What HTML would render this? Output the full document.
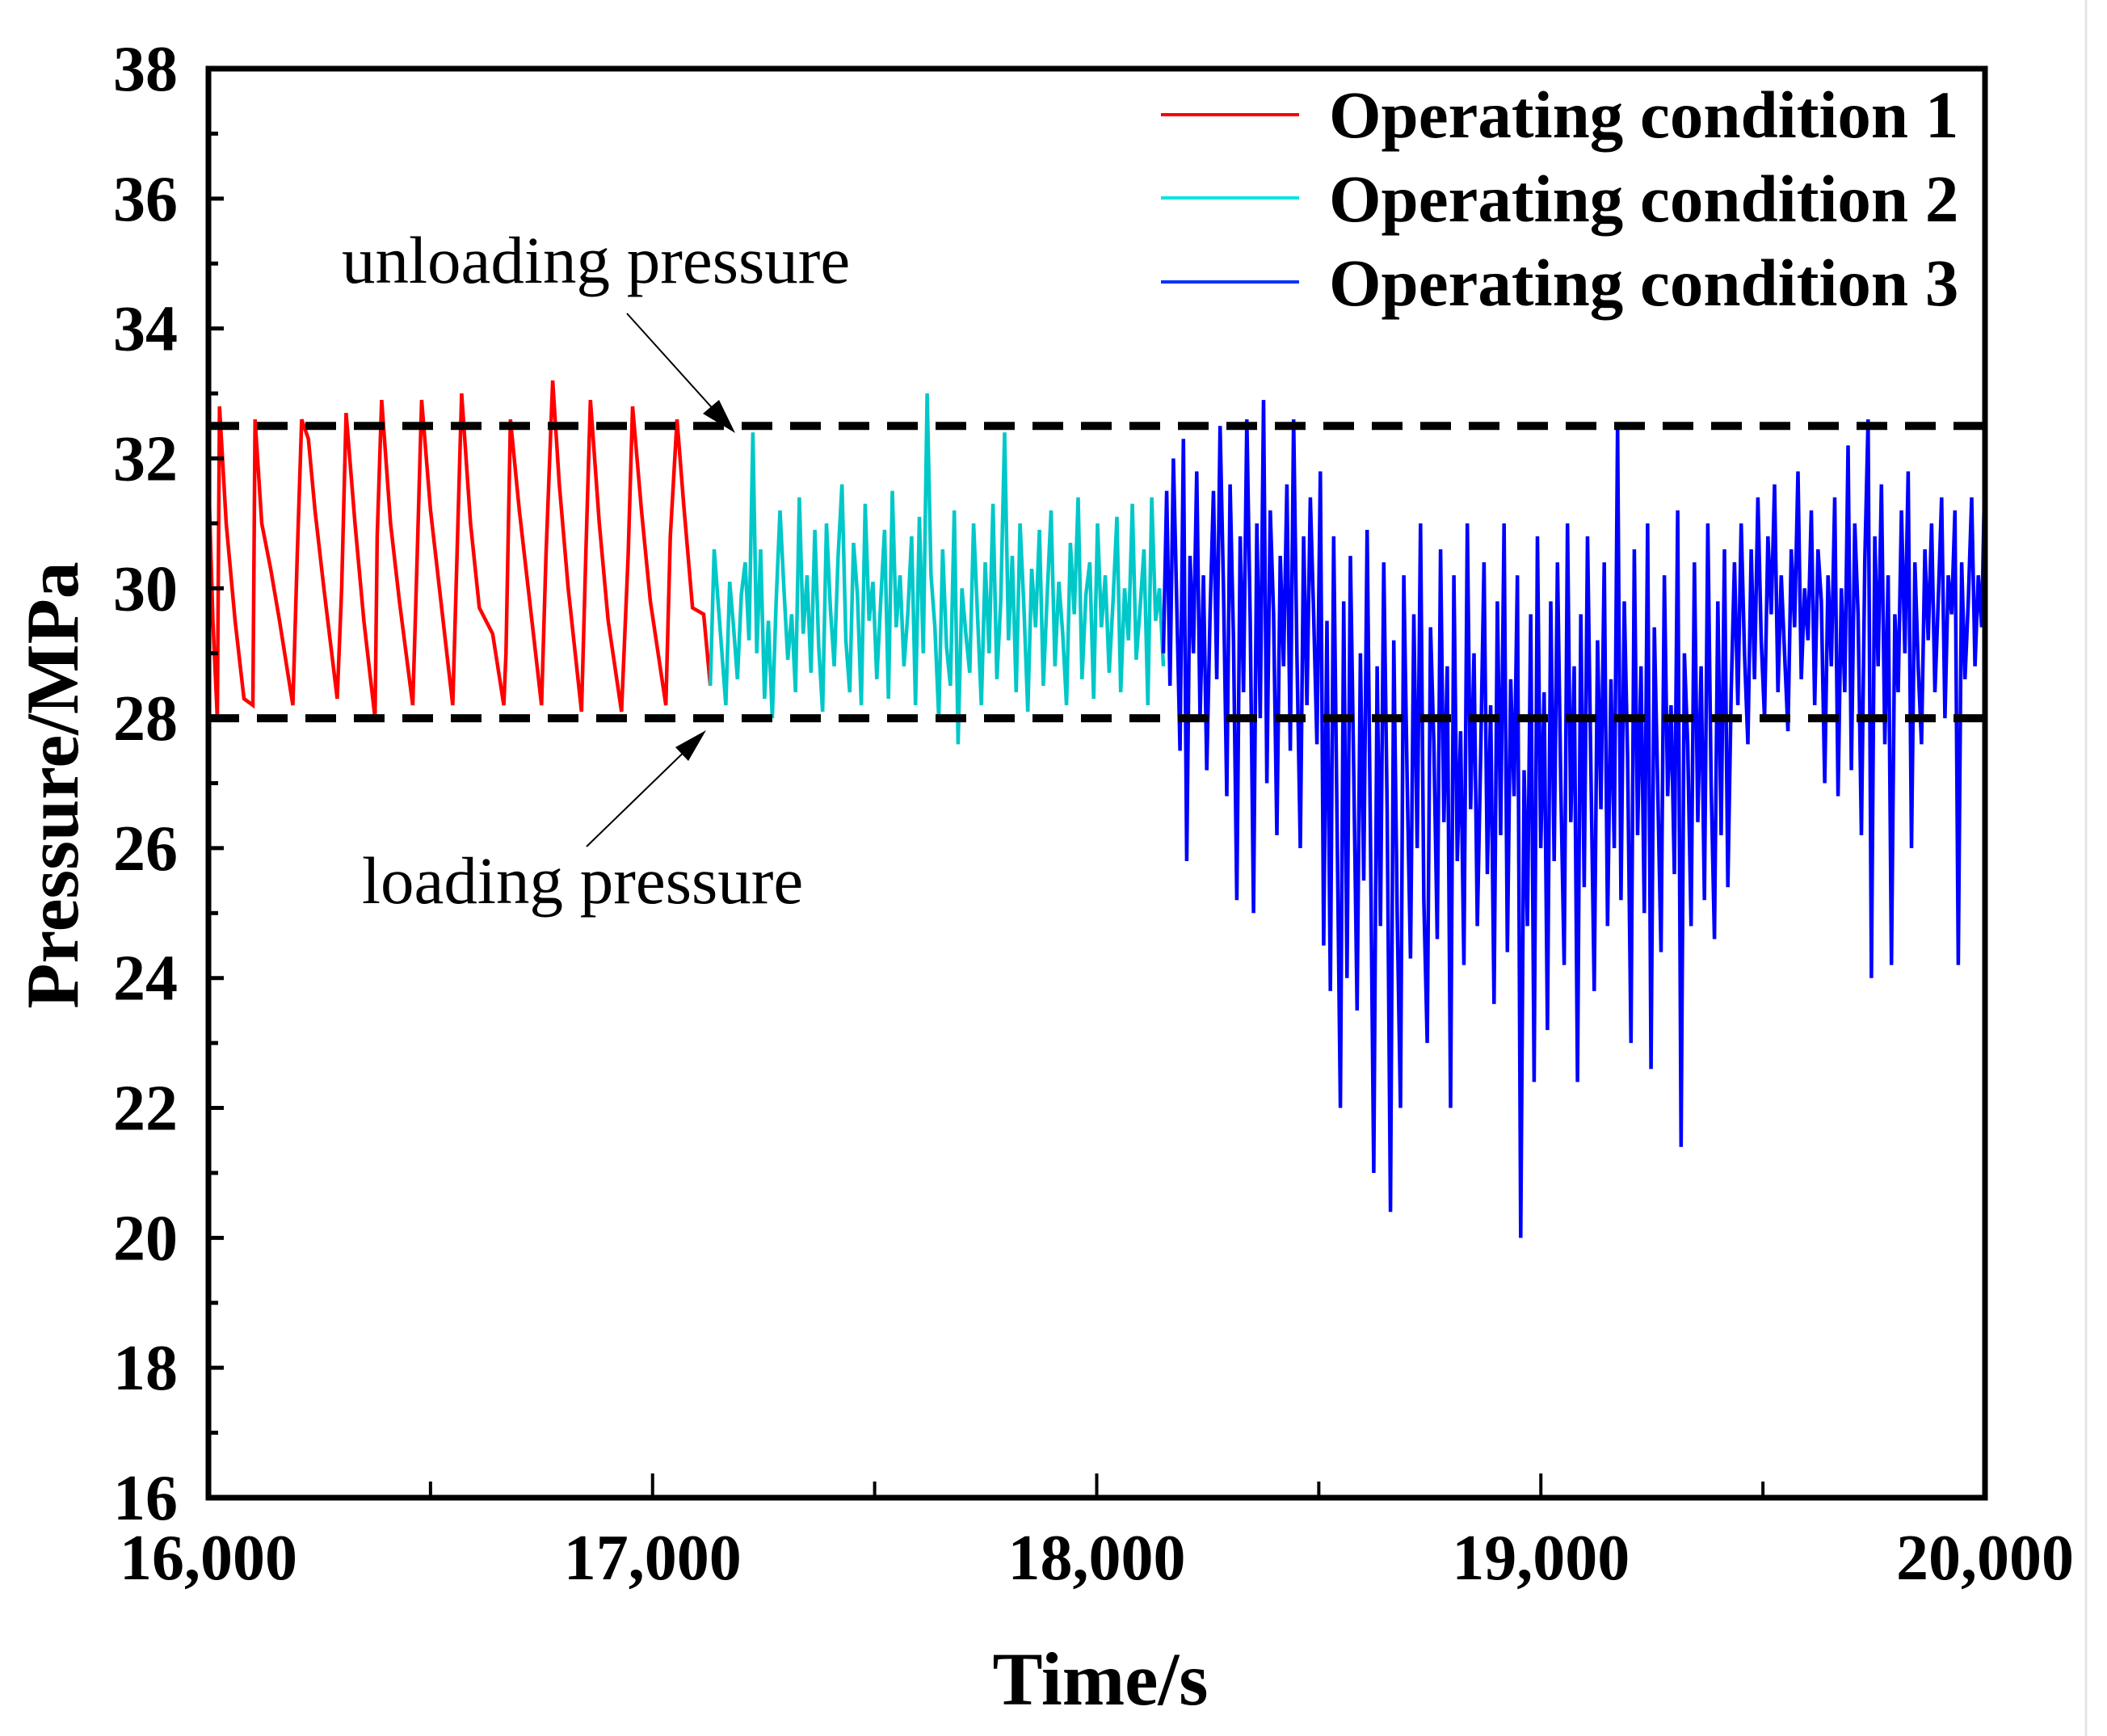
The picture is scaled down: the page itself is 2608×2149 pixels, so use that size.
<!DOCTYPE html>
<html><head><meta charset="utf-8"><style>
html,body{margin:0;padding:0;background:#fff}
svg{display:block}
text{font-family:"Liberation Serif",serif}
</style></head><body>
<svg id="chart" width="2608" height="2149" viewBox="0 0 2608 2149" xmlns="http://www.w3.org/2000/svg">
<rect x="0" y="0" width="2608" height="2149" fill="#fff"/>
<line x1="2582" y1="0" x2="2582" y2="2149" stroke="#e6e6e6" stroke-width="3"/>
<g id="series"></g>
<g id="axes"></g>
<g id="legend">
  <line x1="1437" y1="142" x2="1608" y2="142" stroke="#ff0000" stroke-width="4"/>
  <text x="1645" y="170" font-size="83" font-weight="bold">Operating condition 1</text>
  <line x1="1437" y1="245" x2="1608" y2="245" stroke="#00e5e5" stroke-width="4"/>
  <text x="1645" y="274" font-size="83" font-weight="bold">Operating condition 2</text>
  <line x1="1437" y1="349" x2="1608" y2="349" stroke="#0033ff" stroke-width="4"/>
  <text x="1645" y="378" font-size="83" font-weight="bold">Operating condition 3</text>
</g>
<g>
  <text x="423" y="350" font-size="83">unloading pressure</text>
  <line x1="776" y1="388" x2="895" y2="520" stroke="#000" stroke-width="2"/>
  <polygon points="910,536 870,512 890,495" fill="#000"/>
  <text x="448" y="1118" font-size="83">loading pressure</text>
  <line x1="726" y1="1048" x2="860" y2="918" stroke="#000" stroke-width="2"/>
  <polygon points="874,904 852,942 836,925" fill="#000"/>
</g>
<text x="1362" y="2110" font-size="93" font-weight="bold" text-anchor="middle">Time/s</text>
<text transform="translate(96,972) rotate(-90)" x="0" y="0" font-size="92" font-weight="bold" text-anchor="middle">Pressure/MPa</text>
</svg>
<script>
var xTickLabels=["16,000","17,000","18,000","19,000","20,000"];
var xTicks=[16000,17000,18000,19000,20000];
var yTicks=[16,18,20,22,24,26,28,30,32,34,36,38];
var unloadingPressure=32.5;
var loadingPressure=28.0;
var redTimes=[16000,16010,16020,16025,16040,16060,16080,16100,16105,16120,16140,16160,16190,16200,16210,16225,16240,16260,16290,16300,16310,16330,16350,16375,16380,16390,16410,16430,16460,16470,16480,16500,16520,16550,16560,16570,16590,16610,16640,16665,16670,16680,16700,16720,16750,16760,16775,16790,16810,16840,16850,16860,16880,16900,16930,16945,16955,16975,16995,17030,17040,17055,17070,17090,17115,17130];
var redValues=[31.8,29.5,28.0,32.8,31.0,29.5,28.3,28.2,32.6,31.0,30.3,29.5,28.2,30.5,32.6,32.3,31.2,30.0,28.3,30.0,32.7,31.0,29.5,28.0,30.8,32.9,31.0,29.8,28.2,30.5,32.9,31.2,30.0,28.2,30.6,33.0,31.0,29.7,29.3,28.2,29.0,32.6,31.2,30.0,28.2,30.5,33.2,31.6,30.0,28.1,30.6,32.9,31.0,29.5,28.1,30.5,32.8,31.2,29.8,28.2,30.8,32.6,31.3,29.7,29.6,28.5];
var cyanStart=17130, cyanEnd=18150;
var cyanValues=[28.5,30.6,29.8,29.0,28.2,30.1,29.4,28.6,29.9,30.4,29.2,32.4,29.0,30.6,28.3,29.5,28.0,29.8,31.2,30.0,28.9,29.6,28.4,31.4,29.3,30.2,28.7,30.9,29.1,28.1,31.0,29.7,28.8,30.5,31.6,29.2,28.4,30.7,29.9,28.2,31.3,29.5,30.1,28.6,29.8,30.9,28.3,31.5,29.4,30.2,28.8,29.6,30.8,28.2,31.1,29.0,33.0,30.2,29.4,28.0,30.6,29.1,28.5,31.2,27.6,30.0,29.3,28.7,31.0,29.6,28.2,30.4,29.0,31.3,28.6,29.8,32.4,29.2,30.5,28.4,31.0,29.7,28.1,30.3,29.4,30.9,28.5,29.9,31.2,28.8,30.1,29.3,28.2,30.7,29.6,31.4,28.6,29.9,30.4,28.3,31.0,29.4,30.2,28.7,29.8,31.1,28.4,30.0,29.2,31.3,28.9,29.7,30.6,28.2,31.4,29.5,30.0,28.8];
var blueStart=18150, blueEnd=20000;
var blueValues=[29.0,31.5,28.5,32.0,29.8,27.5,32.3,25.8,30.5,29.0,31.8,28.0,30.2,27.2,29.6,31.5,28.6,32.5,30.0,26.8,31.6,29.2,25.2,30.8,28.4,32.6,29.5,25.0,31.0,28.0,32.9,27.0,31.2,29.6,26.2,30.5,28.8,31.6,27.5,32.6,29.0,26.0,30.8,28.2,31.4,29.6,27.6,
31.8,24.5,29.5,23.8,30.8,26.5,22.0,29.8,24.0,30.5,27.2,23.5,29.0,25.5,30.9,26.2,21.0,28.8,24.8,30.4,26.6,20.4,29.2,25.0,22.0,30.2,27.0,24.3,29.6,26.0,31.0,25.2,23.0,29.4,27.6,24.6,30.6,26.4,28.8,22.0,30.2,25.8,27.8,24.2,31.0,26.6,29.0,24.8,27.4,30.4,25.6,28.2,23.6,29.8,26.2,31.0,24.4,28.6,26.8,30.2,20.0,27.2,24.8,29.6,22.4,30.8,26.0,28.4,23.2,29.8,25.8,30.4,27.0,24.2,31.0,26.4,28.8,22.4,29.6,25.4,30.8,27.2,23.8,29.2,26.6,30.4,24.8,28.6,26.0,32.5,25.2,29.8,27.4,23.0,30.6,26.2,28.8,25.0,31.0,22.6,29.4,27.0,24.4,30.2,26.8,28.2,25.6,31.2,21.4,29.0,27.6,24.8,30.4,26.4,28.8,25.2,31.0,27.0,24.6,29.8,26.2,30.6,25.4,28.4,
30.4,28.2,31.0,29.0,27.6,30.6,28.6,31.4,29.2,28.0,30.8,29.6,31.6,28.4,30.2,29.0,27.8,30.6,29.4,31.8,28.6,30.0,29.2,31.2,28.2,30.6,29.8,27.0,30.2,28.8,31.4,26.8,30.0,28.4,32.2,27.2,31.0,29.6,26.2,30.4,32.6,24.0,30.8,28.8,31.6,27.6,30.2,24.2,29.6,28.4,31.2,29.0,31.8,26.0,30.4,28.8,27.6,30.6,29.2,31.0,28.4,29.8,31.4,28.0,30.2,29.6,31.2,24.2,30.4,28.6,29.8,31.4,28.8,30.2,29.4,32.0];

var L=258,R=2457,T=85,B=1854;
var xMin=16000,xMax=20000,yMin=16,yMax=38;
function X(t){return L+(t-xMin)/(xMax-xMin)*(R-L);}
function Y(v){return B-(v-yMin)/(yMax-yMin)*(B-T);}
var NS="http://www.w3.org/2000/svg";
function mk(tag,attrs,parent){var e=document.createElementNS(NS,tag);for(var k in attrs)e.setAttribute(k,attrs[k]);parent.appendChild(e);return e;}
var S=document.getElementById('series'),A=document.getElementById('axes');
function poly(ts,vs,color,name){
  var pts=[];for(var i=0;i<vs.length;i++)pts.push(X(ts[i]).toFixed(1)+","+Y(vs[i]).toFixed(1));
  var p=mk('polyline',{points:pts.join(' '),fill:'none',stroke:color,'stroke-width':4.5,'stroke-linejoin':'miter'},S);
  
  
}
function even(start,end,n){var a=[];for(var i=0;i<n;i++)a.push(start+(end-start)*i/(n-1));return a;}
poly(redTimes,redValues,'#ff0000','series-operating-condition-1');
poly(even(cyanStart,cyanEnd,cyanValues.length),cyanValues,'#00c8c8','series-operating-condition-2');
poly(even(blueStart,blueEnd,blueValues.length),blueValues,'#0000ff','series-operating-condition-3');
[unloadingPressure,loadingPressure].forEach(function(v,i){
  var l=mk('line',{x1:L,x2:R,y1:Y(v),y2:Y(v),stroke:'#000','stroke-width':10,'stroke-dasharray':'38,22'},S);
  
  
});
var f=mk('rect',{x:L,y:T,width:R-L,height:B-T,fill:'none',stroke:'#000','stroke-width':7},A);


for(var v=yMin;v<=yMax;v+=1){
  var major=(v%2===0);
  var t=mk('line',{x1:L,x2:L+(major?19:12),y1:Y(v),y2:Y(v),stroke:'#000','stroke-width':5},A);
  
  
}
yTicks.forEach(function(v){
  var tx=mk('text',{x:220,y:Y(v)+27,'font-size':80,'font-weight':'bold','text-anchor':'end'},A);
  tx.textContent=String(v);
  
  
});
for(var t2=xMin;t2<=xMax;t2+=500){
  var mj=(t2%1000===0);
  var tk=mk('line',{x1:X(t2),x2:X(t2),y1:B,y2:B-(mj?30:20),stroke:'#000','stroke-width':4},A);
  
  
}
xTicks.forEach(function(t,i){
  var tx=mk('text',{x:X(t),y:1955,'font-size':80,'font-weight':'bold','text-anchor':'middle'},A);
  tx.textContent=xTickLabels[i];
  
  
});
</script>
</body></html>
